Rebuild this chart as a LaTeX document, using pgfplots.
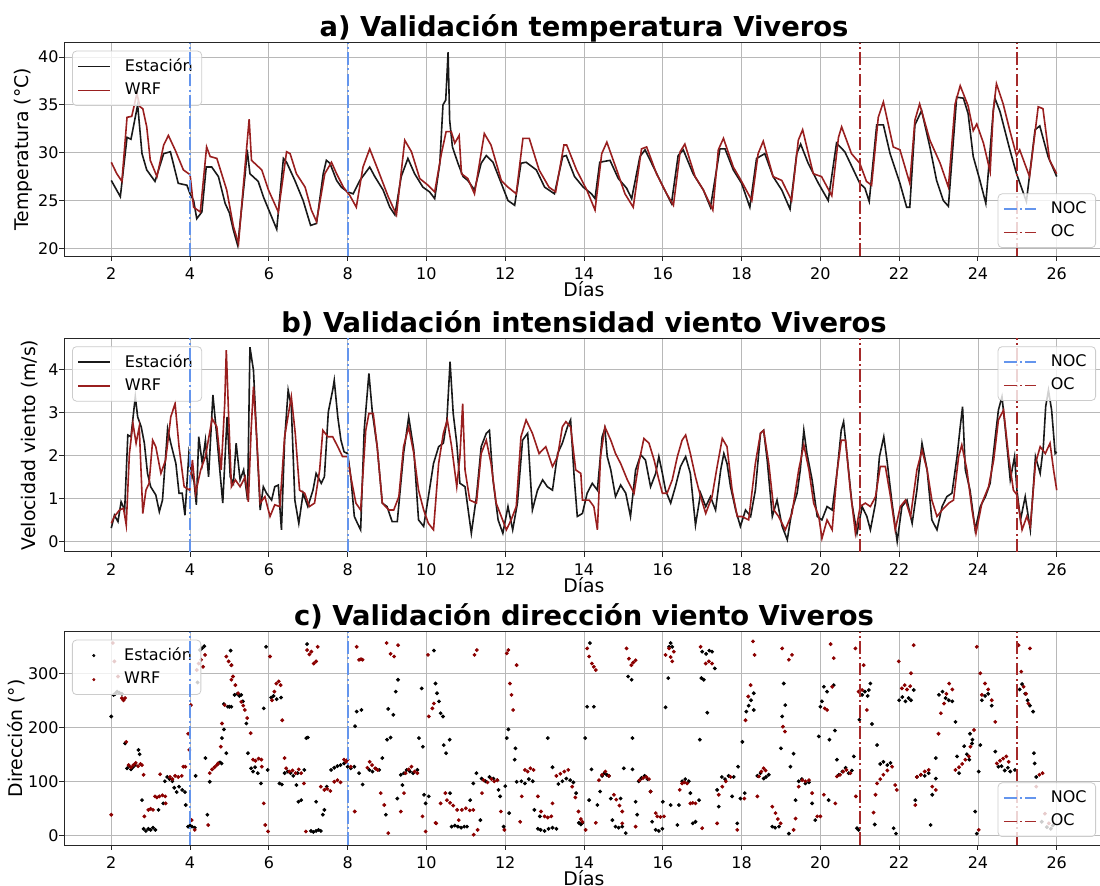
\documentclass[border=0pt]{standalone}
\usepackage{fontspec}
\setmainfont{DejaVu Sans}
\usepackage{pgfplots}
\pgfplotsset{compat=1.18}
\definecolor{wrf}{HTML}{8B0000}
\definecolor{noc}{HTML}{6495ED}
\definecolor{oc}{HTML}{A52A2A}

\pgfplotsset{
  base/.style={scale only axis, width=520pt, height=106.65pt, xmin=0.8, xmax=27.2, anchor=north west},
  legbox/.style={draw=black!20, fill=white, fill opacity=0.8, text opacity=1, rounded corners=2pt,
    font=\fontsize{8}{9.6}\selectfont, row sep=0.4pt, inner xsep=2.5pt, inner ysep=1.8pt},
  linelegend/.style={legend cell align=left,
    legend image code/.code={\draw[##1] (0pt,0pt) -- (16pt,0pt); \path (21pt,0pt);}},
  panel/.style={base, linelegend,
    grid=major, grid style={black!28, line width=0.4pt},
    tick align=outside, tick pos=left, major tick length=2.5pt,
    tick style={black!85, line width=0.45pt},
    axis line style={black!85, line width=0.45pt},
    xtick={2,4,...,26},
    tick label style={font=\fontsize{8}{9.6}\selectfont},
    yticklabel style={inner xsep=0pt},
    /pgf/number format/assume math mode=true,
    label style={font=\fontsize{9.4}{11}\selectfont},
    title style={font=\bfseries\fontsize{13.7}{16}\selectfont, at={(0.5,1)}, anchor=base, yshift=-3.1pt},
    xlabel={Días},
    xlabel style={at={(axis description cs:0.5,0)}, anchor=base, yshift=-20.5pt}},
  over/.style={base, hide axis, linelegend},
  est/.style={black!90, line width=0.8pt},
  mod/.style={wrf!88!white, line width=0.8pt},
  nocl/.style={noc, line width=0.9pt, dash pattern=on 6.4pt off 1.6pt on 1pt off 1.6pt},
  ocl/.style={oc, line width=0.9pt, dash pattern=on 6.4pt off 1.6pt on 1pt off 1.6pt},
  dotk/.style={only marks, mark=*, mark size=0.75pt, mark options={draw=black, fill=black},
    legend image code/.code={\fill[black] (8pt,0pt) circle (0.55pt); \path (0pt,0pt) (21pt,0pt);}},
  dotr/.style={only marks, mark=*, mark size=0.75pt, mark options={draw=wrf, fill=wrf},
    legend image code/.code={\fill[wrf] (8pt,0pt) circle (0.55pt); \path (0pt,0pt) (21pt,0pt);}},
}

\begin{document}
\begin{tikzpicture}
\useasboundingbox (0,0) rectangle (550pt,-443pt);
\clip (0,0) rectangle (550pt,-443pt);

% a) temperatura
\begin{axis}[panel, at={(32pt,-21.35pt)}, ymin=19.2, ymax=41.5, ytick={20,25,30,35,40},
  title={a) Validación temperatura Viveros}, ylabel={Temperatura (°C)},
  ylabel style={at={(axis description cs:-0.0394,0.5)}, anchor=center},
  legend style={legbox, at={(0,1)}, anchor=north west, xshift=4pt, yshift=-4pt}]
\addplot[est] coordinates {(2.0,27.1)(2.23,25.4)(2.4,31.6)(2.5,31.4)(2.67,35.0)(2.78,29.9)(2.9,28.2)(3.11,27.0)(3.33,29.9)(3.5,30.1)(3.7,26.8)(3.92,26.6)(4.0,25.7)(4.09,25.0)(4.17,23.1)(4.3,23.8)(4.41,28.5)(4.55,28.5)(4.72,27.5)(4.89,24.7)(5.0,23.7)(5.1,21.9)(5.21,20.3)(5.4,27.8)(5.45,30.3)(5.52,27.8)(5.73,27.0)(5.86,25.4)(6.07,23.3)(6.2,22.0)(6.37,29.4)(6.45,29.0)(6.66,27.1)(6.87,25.0)(7.06,22.4)(7.21,22.6)(7.38,27.8)(7.46,29.2)(7.55,28.9)(7.72,27.1)(7.84,26.4)(8.0,25.9)(8.14,25.7)(8.31,27.1)(8.56,28.5)(8.69,27.5)(8.9,26.1)(9.07,24.3)(9.2,23.5)(9.36,27.5)(9.53,29.4)(9.7,27.8)(9.91,26.4)(10.08,25.9)(10.21,25.2)(10.34,28.9)(10.42,35.0)(10.49,35.5)(10.55,40.5)(10.59,33.4)(10.66,30.6)(10.8,28.9)(10.93,27.5)(11.05,27.1)(11.22,26.1)(11.39,28.9)(11.52,29.7)(11.69,29.0)(11.9,26.8)(12.07,25.0)(12.24,24.5)(12.4,28.9)(12.53,29.0)(12.79,28.2)(13.0,26.4)(13.25,25.7)(13.46,29.6)(13.55,29.7)(13.76,27.5)(13.98,26.4)(14.19,25.7)(14.28,25.2)(14.4,29.0)(14.66,29.2)(14.87,27.3)(15.08,26.3)(15.21,25.2)(15.42,29.6)(15.55,30.3)(15.8,28.2)(16.01,26.4)(16.22,24.7)(16.39,29.7)(16.52,30.3)(16.77,27.8)(17.03,26.1)(17.21,24.3)(17.45,30.4)(17.58,30.4)(17.79,28.2)(18.0,26.8)(18.21,24.3)(18.38,29.4)(18.59,29.9)(18.8,27.5)(19.02,26.1)(19.23,24.1)(19.4,29.9)(19.5,30.9)(19.69,28.9)(19.95,26.8)(20.2,25.0)(20.41,31.0)(20.62,30.1)(20.84,28.2)(21.0,26.8)(21.13,26.3)(21.24,24.9)(21.43,32.9)(21.6,32.9)(21.77,29.9)(22.02,26.8)(22.19,24.3)(22.27,24.3)(22.4,32.9)(22.57,34.4)(22.78,30.6)(22.95,27.1)(23.12,25.0)(23.25,24.4)(23.46,35.8)(23.63,35.7)(23.75,34.1)(23.88,29.6)(24.05,27.1)(24.2,24.7)(24.39,34.4)(24.43,35.7)(24.56,34.3)(24.81,30.3)(24.98,27.8)(25.23,24.9)(25.45,32.4)(25.57,32.8)(25.78,29.6)(26.0,27.5)};
\addplot[mod] coordinates {(2.0,29.0)(2.14,27.8)(2.27,27.0)(2.4,33.7)(2.52,33.8)(2.58,34.9)(2.65,36.2)(2.73,34.8)(2.8,34.6)(2.9,32.7)(2.99,29.2)(3.16,27.5)(3.33,30.8)(3.45,31.8)(3.62,30.3)(3.83,28.2)(4.0,27.7)(4.09,24.3)(4.26,23.8)(4.42,30.6)(4.51,29.6)(4.68,29.4)(4.93,26.1)(5.1,22.3)(5.23,20.5)(5.35,26.4)(5.5,33.5)(5.56,29.2)(5.69,28.7)(5.82,28.2)(5.99,26.1)(6.24,23.8)(6.45,30.1)(6.54,29.9)(6.7,27.8)(6.92,26.4)(7.08,24.0)(7.21,22.8)(7.42,27.8)(7.59,29.0)(7.72,27.8)(7.89,26.4)(8.06,25.5)(8.22,24.3)(8.39,28.5)(8.56,30.4)(8.77,28.2)(9.03,25.4)(9.24,23.5)(9.45,31.3)(9.62,30.1)(9.83,27.3)(10.04,26.6)(10.21,25.9)(10.38,29.9)(10.5,32.2)(10.63,32.2)(10.72,31.0)(10.83,31.8)(10.89,27.8)(11.05,27.3)(11.22,25.7)(11.47,32.0)(11.64,30.8)(11.9,27.1)(12.07,26.4)(12.28,25.7)(12.45,31.5)(12.61,31.5)(12.86,28.2)(13.11,26.4)(13.28,25.9)(13.49,30.8)(13.56,30.8)(13.81,28.2)(14.07,26.1)(14.28,24.0)(14.45,29.9)(14.58,31.1)(14.83,28.2)(15.04,25.7)(15.25,24.3)(15.46,30.4)(15.59,30.6)(15.84,27.8)(16.1,25.7)(16.27,24.5)(16.44,30.1)(16.56,30.9)(16.82,27.5)(17.03,26.1)(17.27,24.0)(17.41,30.3)(17.54,31.5)(17.79,28.5)(18.0,27.0)(18.26,25.0)(18.42,29.9)(18.55,31.2)(18.8,27.5)(19.02,27.1)(19.27,25.0)(19.44,31.3)(19.55,32.4)(19.82,27.8)(20.03,27.5)(20.29,25.5)(20.46,31.6)(20.54,32.7)(20.79,29.9)(21.0,28.9)(21.17,27.0)(21.3,26.6)(21.47,33.7)(21.6,35.3)(21.85,30.6)(22.02,30.3)(22.27,26.8)(22.4,33.4)(22.52,35.1)(22.78,31.3)(23.04,28.9)(23.25,26.4)(23.42,35.1)(23.55,37.0)(23.75,34.9)(23.88,32.3)(23.97,33.0)(24.14,31.0)(24.31,28.0)(24.39,34.4)(24.47,37.2)(24.64,35.1)(24.81,32.3)(24.98,29.7)(25.06,30.3)(25.31,27.5)(25.53,34.8)(25.65,34.6)(25.82,29.2)(26.0,27.8)};
\legend{Estación,WRF}
\end{axis}
\begin{axis}[over, at={(32pt,-21.35pt)}, ymin=19.2, ymax=41.5,
  legend style={legbox, at={(1,0)}, anchor=south east, xshift=-4pt, yshift=4pt}]
\addplot[nocl] coordinates {(4,19.2)(4,41.5)};
\addplot[nocl, forget plot] coordinates {(8,19.2)(8,41.5)};
\addplot[ocl] coordinates {(21,19.2)(21,41.5)};
\addplot[ocl, forget plot] coordinates {(25,19.2)(25,41.5)};
\legend{NOC,OC}
\end{axis}

% b) viento
\begin{axis}[panel, at={(32pt,-169.15pt)}, ymin=-0.225, ymax=4.725, ytick={0,1,2,3,4},
  title={b) Validación intensidad viento Viveros}, ylabel={Velocidad viento (m/s)},
  ylabel style={at={(axis description cs:-0.0327,0.5)}, anchor=center},
  legend style={legbox, at={(0,1)}, anchor=north west, xshift=4pt, yshift=-4pt}]
\addplot[est] coordinates {(2.0,0.32)(2.08,0.62)(2.17,0.47)(2.25,0.93)(2.34,0.74)(2.42,2.48)(2.5,2.44)(2.61,3.37)(2.67,2.9)(2.76,2.67)(2.84,2.29)(2.92,1.59)(3.0,1.28)(3.13,1.09)(3.22,0.70)(3.3,0.97)(3.43,2.63)(3.51,2.29)(3.64,1.82)(3.72,1.13)(3.8,1.13)(3.87,0.62)(3.97,2.05)(4.04,1.59)(4.1,1.4)(4.16,0.86)(4.22,2.44)(4.31,1.82)(4.39,2.36)(4.47,1.51)(4.58,3.41)(4.68,2.44)(4.83,0.9)(4.94,2.9)(5.02,1.51)(5.1,1.36)(5.17,2.29)(5.27,1.44)(5.36,1.67)(5.46,0.97)(5.52,4.52)(5.61,3.98)(5.69,2.44)(5.78,0.74)(5.86,1.28)(5.94,1.13)(6.07,0.97)(6.15,1.28)(6.24,1.32)(6.32,0.28)(6.4,2.36)(6.49,3.52)(6.57,3.14)(6.66,0.97)(6.76,0.43)(6.87,1.13)(6.99,0.82)(7.12,1.2)(7.2,1.59)(7.33,1.36)(7.41,1.51)(7.51,3.02)(7.62,3.52)(7.66,3.75)(7.75,2.9)(7.83,2.36)(7.91,2.09)(8.0,2.05)(8.08,1.51)(8.17,0.59)(8.25,0.43)(8.33,0.28)(8.42,2.59)(8.54,3.91)(8.63,2.98)(8.75,2.21)(8.88,0.9)(9.0,0.82)(9.13,0.47)(9.26,0.47)(9.42,2.05)(9.55,2.9)(9.68,2.13)(9.8,0.51)(9.93,0.36)(10.05,1.05)(10.18,1.82)(10.31,2.21)(10.43,2.29)(10.52,2.83)(10.6,4.18)(10.68,2.98)(10.77,2.29)(10.85,1.36)(10.98,1.28)(11.14,0.2)(11.27,1.05)(11.39,2.21)(11.52,2.52)(11.6,2.59)(11.69,1.44)(11.82,0.51)(11.94,0.2)(12.07,0.82)(12.19,0.28)(12.31,0.9)(12.44,2.36)(12.57,2.52)(12.69,0.74)(12.82,1.2)(12.95,1.44)(13.07,1.28)(13.2,1.2)(13.33,2.05)(13.45,2.29)(13.58,2.67)(13.66,2.83)(13.75,1.51)(13.83,0.59)(13.96,0.66)(14.08,1.13)(14.21,1.36)(14.34,1.2)(14.46,2.44)(14.53,2.63)(14.59,1.98)(14.68,1.67)(14.8,1.05)(14.93,1.32)(15.06,1.13)(15.18,0.59)(15.31,1.67)(15.44,2.02)(15.56,1.9)(15.69,1.28)(15.82,1.59)(15.9,1.98)(15.99,1.59)(16.07,1.2)(16.2,0.9)(16.32,1.28)(16.45,1.75)(16.58,1.98)(16.7,1.59)(16.83,0.39)(16.96,1.13)(17.09,0.82)(17.21,1.05)(17.34,0.74)(17.47,1.67)(17.55,2.05)(17.63,1.82)(17.72,1.28)(17.85,0.74)(17.97,0.36)(18.1,0.74)(18.23,0.59)(18.35,1.2)(18.48,2.52)(18.56,2.59)(18.65,1.9)(18.78,0.59)(18.9,0.97)(19.03,0.36)(19.16,0.05)(19.28,0.74)(19.41,1.13)(19.49,1.67)(19.58,2.59)(19.66,2.05)(19.79,1.44)(19.92,0.59)(20.04,0.51)(20.17,0.82)(20.3,0.74)(20.42,1.59)(20.53,2.59)(20.59,2.79)(20.68,1.98)(20.8,0.9)(20.93,0.2)(21.06,0.82)(21.18,0.59)(21.27,0.28)(21.4,0.9)(21.5,1.98)(21.61,2.44)(21.69,1.9)(21.82,0.9)(21.95,0.01)(22.07,0.82)(22.2,0.97)(22.33,0.43)(22.45,1.2)(22.58,2.29)(22.71,1.67)(22.83,0.51)(22.96,0.28)(23.09,0.82)(23.21,1.05)(23.34,1.13)(23.47,1.98)(23.55,2.67)(23.61,3.14)(23.68,1.67)(23.8,1.2)(23.93,0.28)(24.06,0.82)(24.19,1.05)(24.31,1.36)(24.44,2.44)(24.52,3.06)(24.61,3.37)(24.69,2.67)(24.82,1.44)(24.93,1.98)(24.99,1.2)(25.08,0.51)(25.2,1.05)(25.33,0.28)(25.46,1.98)(25.58,1.59)(25.66,2.21)(25.72,3.14)(25.79,3.52)(25.87,3.06)(25.96,2.05)(26.0,2.09)};
\addplot[mod] coordinates {(2.0,0.43)(2.08,0.59)(2.21,0.74)(2.31,0.78)(2.38,0.39)(2.46,2.05)(2.55,2.75)(2.63,2.29)(2.71,2.67)(2.8,0.66)(2.88,1.2)(2.96,1.36)(3.05,2.36)(3.13,2.21)(3.26,1.59)(3.38,1.9)(3.51,2.9)(3.62,3.21)(3.72,2.21)(3.85,1.28)(3.99,1.2)(4.06,1.9)(4.14,1.13)(4.27,1.67)(4.39,1.98)(4.56,2.86)(4.68,2.67)(4.79,1.67)(4.88,3.21)(4.92,4.45)(4.98,2.9)(5.05,1.28)(5.15,1.44)(5.27,1.28)(5.4,1.51)(5.48,0.93)(5.55,2.59)(5.61,3.6)(5.69,2.44)(5.78,0.9)(5.9,1.05)(6.03,0.59)(6.15,0.86)(6.28,0.82)(6.4,2.44)(6.57,3.37)(6.67,2.52)(6.78,1.2)(6.91,1.13)(7.03,0.82)(7.16,0.9)(7.29,1.67)(7.37,2.59)(7.5,2.44)(7.62,2.44)(7.75,2.21)(7.87,1.98)(8.0,1.98)(8.08,1.51)(8.21,0.9)(8.33,0.74)(8.46,2.59)(8.54,2.98)(8.65,2.98)(8.75,2.21)(8.88,0.9)(9.05,0.74)(9.17,0.74)(9.3,1.05)(9.42,2.21)(9.55,2.67)(9.68,2.05)(9.8,1.2)(9.93,0.74)(10.05,0.43)(10.18,0.28)(10.31,1.82)(10.43,2.52)(10.53,2.83)(10.64,2.21)(10.77,1.28)(10.85,1.98)(10.92,3.21)(10.98,1.67)(11.1,0.97)(11.27,0.9)(11.39,2.05)(11.52,2.36)(11.64,1.82)(11.77,0.9)(11.9,0.59)(12.03,0.28)(12.15,0.51)(12.28,0.82)(12.4,2.44)(12.53,2.83)(12.69,2.52)(12.86,2.05)(13.03,2.21)(13.2,1.75)(13.33,1.98)(13.45,2.67)(13.54,2.79)(13.66,2.67)(13.79,1.67)(13.92,1.59)(13.96,0.97)(14.13,0.97)(14.25,0.82)(14.34,0.28)(14.42,1.98)(14.53,2.67)(14.68,2.36)(14.8,2.05)(14.93,1.82)(15.1,1.44)(15.27,1.13)(15.39,1.82)(15.52,2.4)(15.65,2.29)(15.78,1.9)(15.9,1.44)(15.99,1.13)(16.11,1.13)(16.24,1.44)(16.37,1.98)(16.49,2.36)(16.58,2.48)(16.7,2.05)(16.83,1.51)(16.96,1.05)(17.09,0.66)(17.25,1.05)(17.38,1.75)(17.51,2.4)(17.63,2.21)(17.76,1.2)(17.89,0.59)(18.01,0.59)(18.18,0.51)(18.35,1.82)(18.48,2.52)(18.56,2.59)(18.69,1.82)(18.82,0.74)(18.94,0.59)(19.11,0.28)(19.28,0.66)(19.45,1.67)(19.58,2.25)(19.71,1.67)(19.83,0.9)(19.96,0.59)(20.04,0.08)(20.17,0.51)(20.3,0.28)(20.42,1.59)(20.53,2.36)(20.64,2.36)(20.76,1.2)(20.89,0.2)(21.01,0.82)(21.14,0.9)(21.27,0.82)(21.4,1.05)(21.52,1.75)(21.65,1.75)(21.78,1.05)(21.9,0.28)(22.03,0.82)(22.16,0.97)(22.29,0.59)(22.45,1.67)(22.58,2.13)(22.71,1.67)(22.83,0.97)(22.96,0.59)(23.09,0.74)(23.26,0.9)(23.38,0.97)(23.51,1.98)(23.59,2.25)(23.72,1.67)(23.85,0.74)(23.95,0.2)(24.1,0.9)(24.27,1.28)(24.4,1.9)(24.52,2.83)(24.65,3.06)(24.78,1.98)(24.9,1.2)(24.99,1.09)(25.12,0.28)(25.24,0.59)(25.33,0.36)(25.46,1.82)(25.58,2.21)(25.71,2.05)(25.83,2.29)(25.92,1.67)(26.0,1.2)};
\legend{Estación,WRF}
\end{axis}
\begin{axis}[over, at={(32pt,-169.15pt)}, ymin=-0.225, ymax=4.725,
  legend style={legbox, at={(1,1)}, anchor=north east, xshift=-4pt, yshift=-4pt}]
\addplot[nocl] coordinates {(4,-0.225)(4,4.725)};
\addplot[nocl, forget plot] coordinates {(8,-0.225)(8,4.725)};
\addplot[ocl] coordinates {(21,-0.225)(21,4.725)};
\addplot[ocl, forget plot] coordinates {(25,-0.225)(25,4.725)};
\legend{NOC,OC}
\end{axis}

% c) direccion
\begin{axis}[panel, at={(32pt,-315.85pt)}, ymin=-18, ymax=377, ytick={0,100,200,300},
  title={c) Validación dirección viento Viveros}, ylabel={Dirección (°)},
  ylabel style={at={(axis description cs:-0.0462,0.5)}, anchor=center},
  legend style={legbox, at={(0,1)}, anchor=north west, xshift=4pt, yshift=-4pt}]
\addplot[dotk] coordinates {(2.0,220)(2.06,260)(2.1,262)(2.15,266)(2.2,264)(2.27,262)(2.35,170)(2.4,124)(2.45,128)(2.5,122)(2.55,126)(2.6,130)(2.69,158)(2.72,150)(2.78,65)(2.82,12)(2.88,8)(2.94,12)(3.0,10)(3.06,14)(3.12,10)(3.2,47)(3.32,59)(3.36,100)(3.42,108)(3.48,104)(3.55,100)(3.6,88)(3.66,80)(3.72,90)(3.8,84)(3.87,80)(3.89,56)(3.95,16)(4.0,18)(4.05,16)(4.12,14)(4.14,110)(4.19,283)(4.25,343)(4.3,346)(4.36,350)(4.39,143)(4.44,38)(4.5,99)(4.72,133)(4.76,135)(4.8,133)(4.81,180)(4.86,196)(4.92,152)(4.86,243)(4.96,238)(5.0,238)(5.05,238)(5.05,315)(5.03,342)(5.13,260)(5.2,262)(5.25,258)(5.3,260)(5.34,248)(5.43,207)(5.47,152)(5.55,124)(5.6,118)(5.65,126)(5.72,115)(5.8,96)(5.93,349)(5.97,121)(5.87,235)(6.06,255)(6.12,258)(6.2,252)(6.27,96)(6.31,255)(6.33,94)(6.4,115)(6.48,118)(6.55,115)(6.62,110)(6.7,93)(6.73,115)(6.75,62)(6.82,65)(6.9,121)(6.95,180)(6.99,181)(6.97,354)(7.07,8)(7.13,6)(7.2,8)(7.26,10)(7.32,8)(7.2,62)(7.37,38)(7.41,47)(7.47,90)(7.58,121)(7.66,125)(7.74,128)(7.82,130)(7.91,133)(8.0,127)(8.08,124)(8.17,127)(8.19,202)(8.23,229)(8.35,232)(8.29,115)(8.38,94)(8.55,121)(8.63,118)(8.72,123)(8.8,121)(8.88,143)(8.97,38)(9.0,177)(9.09,181)(9.03,234)(9.16,223)(9.22,266)(9.28,288)(9.26,68)(9.35,112)(9.39,93)(9.43,115)(9.5,121)(9.58,118)(9.66,115)(9.77,121)(9.81,180)(9.88,272)(9.91,164)(9.94,75)(9.98,59)(10.06,72)(10.19,342)(10.23,281)(10.27,263)(10.32,248)(10.36,226)(10.42,220)(10.44,167)(10.5,152)(10.59,177)(10.6,78)(10.64,16)(10.72,18)(10.8,16)(10.88,14)(10.96,16)(11.03,16)(11.11,65)(11.19,96)(11.27,115)(11.37,28)(11.4,105)(11.5,100)(11.6,108)(11.7,105)(11.8,102)(11.83,84)(11.87,72)(11.96,16)(12.0,91)(12.04,180)(12.08,196)(12.1,41)(12.24,140)(12.26,161)(12.29,99)(12.41,100)(12.5,96)(12.6,104)(12.7,100)(12.74,47)(12.83,12)(12.9,10)(13.0,8)(13.1,12)(13.2,14)(13.3,12)(12.88,35)(13.08,180)(13.2,126)(13.35,95)(13.45,100)(13.55,105)(13.65,102)(13.73,98)(13.8,78)(13.87,23)(13.92,20)(13.96,23)(14.03,180)(14.08,238)(14.13,65)(14.19,122)(14.25,238)(14.15,356)(14.34,56)(14.41,81)(14.46,110)(14.52,115)(14.58,112)(14.63,110)(14.68,68)(14.72,28)(14.8,16)(14.88,14)(14.97,16)(14.93,68)(15.01,124)(15.06,4)(15.12,294)(15.21,288)(15.23,180)(15.23,122)(15.31,62)(15.35,38)(15.39,100)(15.46,106)(15.54,110)(15.61,104)(15.69,81)(15.73,25)(15.82,10)(15.9,8)(15.99,12)(16.0,62)(16.07,237)(16.14,291)(16.16,349)(16.2,356)(16.24,349)(16.2,56)(16.37,19)(16.41,56)(16.49,100)(16.57,104)(16.66,100)(16.7,78)(16.76,22)(16.83,25)(16.92,65)(16.94,177)(16.98,291)(17.04,288)(17.0,340)(17.1,336)(17.18,342)(17.25,340)(17.13,227)(17.32,309)(17.38,84)(17.42,53)(17.5,108)(17.58,104)(17.67,110)(17.76,72)(17.8,108)(17.89,22)(17.91,127)(17.97,68)(18.02,173)(18.08,78)(18.12,229)(18.18,240)(18.24,250)(18.31,232)(18.31,263)(18.4,110)(18.48,115)(18.56,105)(18.62,108)(18.69,112)(18.78,16)(18.85,14)(18.95,16)(19.03,220)(19.07,281)(19.11,241)(19.0,161)(19.2,3)(19.24,127)(19.32,151)(19.37,65)(19.45,100)(19.53,104)(19.62,96)(19.71,98)(19.79,59)(19.87,28)(19.96,183)(20.0,238)(20.04,248)(20.09,275)(20.17,266)(20.21,65)(20.23,177)(20.34,278)(20.37,194)(20.42,140)(20.47,112)(20.56,118)(20.64,125)(20.72,115)(20.8,120)(20.85,146)(20.93,13)(20.97,10)(20.99,214)(21.06,260)(21.13,266)(21.2,258)(21.23,269)(21.27,281)(21.31,206)(21.38,20)(21.44,167)(21.52,132)(21.6,136)(21.7,130)(21.78,134)(21.86,13)(21.92,3)(22.0,250)(22.08,256)(22.16,248)(22.24,254)(22.3,250)(22.37,269)(22.41,65)(22.45,108)(22.55,112)(22.65,110)(22.75,115)(22.8,19)(22.84,75)(22.93,143)(22.93,105)(23.01,260)(23.1,266)(23.18,254)(23.26,250)(23.35,248)(23.43,210)(23.47,146)(23.52,115)(23.65,165)(23.72,150)(23.78,140)(23.85,170)(23.8,188)(23.86,177)(23.93,44)(23.97,3)(24.02,118)(24.06,167)(24.1,250)(24.18,258)(24.26,262)(24.35,240)(24.44,155)(24.52,127)(24.6,128)(24.68,120)(24.76,125)(24.82,118)(24.94,121)(25.06,270)(25.12,280)(25.2,262)(25.26,250)(25.32,240)(25.4,229)(25.42,152)(25.44,133)(25.48,108)(25.62,25)(25.75,15)(25.85,12)(25.9,18)};
\addplot[dotr] coordinates {(2.0,38)(2.04,356)(2.08,322)(2.17,294)(2.27,254)(2.31,250)(2.35,254)(2.38,173)(2.44,130)(2.5,126)(2.56,130)(2.62,134)(2.68,128)(2.74,132)(2.78,130)(2.82,112)(2.84,35)(2.94,47)(3.0,49)(3.06,47)(3.11,72)(3.16,70)(3.22,72)(3.3,74)(3.37,72)(3.24,113)(3.38,59)(3.49,108)(3.55,104)(3.62,110)(3.7,108)(3.79,110)(3.83,127)(3.88,127)(3.95,188)(3.98,158)(4.02,241)(4.04,28)(4.12,10)(4.17,306)(4.22,318)(4.28,325)(4.33,312)(4.38,334)(4.46,19)(4.5,115)(4.56,122)(4.62,126)(4.68,130)(4.71,133)(4.78,164)(4.81,207)(4.88,241)(4.92,331)(4.98,322)(5.05,315)(5.05,288)(5.09,294)(5.15,278)(5.22,263)(5.3,247)(5.35,240)(5.39,232)(5.45,217)(5.54,189)(5.6,140)(5.66,138)(5.74,142)(5.81,140)(5.82,127)(5.87,59)(5.91,19)(5.98,7)(6.03,331)(6.08,250)(6.14,266)(6.19,281)(6.25,285)(6.3,278)(6.34,213)(6.4,143)(6.44,124)(6.52,118)(6.6,120)(6.68,115)(6.76,122)(6.82,115)(6.89,96)(6.94,7)(6.97,343)(7.03,335)(7.08,340)(7.14,318)(7.2,322)(7.24,349)(7.32,90)(7.41,84)(7.48,86)(7.56,82)(7.66,99)(7.74,102)(7.82,98)(7.91,140)(7.96,136)(8.0,140)(8.08,127)(8.18,44)(8.23,349)(8.29,325)(8.34,326)(8.38,325)(8.5,125)(8.56,136)(8.62,130)(8.7,124)(8.76,121)(8.84,78)(8.93,56)(8.99,356)(9.03,4)(9.09,336)(9.18,331)(9.28,352)(9.35,44)(9.43,78)(9.47,115)(9.55,122)(9.62,127)(9.7,118)(9.77,115)(9.9,35)(9.98,7)(10.04,334)(10.06,220)(10.15,235)(10.19,244)(10.23,23)(10.25,22)(10.36,59)(10.48,78)(10.52,65)(10.6,60)(10.68,55)(10.78,47)(10.82,28)(10.9,47)(11.0,50)(11.1,46)(11.19,47)(11.22,334)(11.28,343)(11.2,1)(11.3,10)(11.41,78)(11.45,102)(11.55,98)(11.65,104)(11.72,100)(11.8,102)(11.89,44)(11.98,10)(12.04,337)(12.08,343)(12.12,281)(12.16,260)(12.2,232)(12.29,315)(12.38,25)(12.42,72)(12.5,121)(12.57,118)(12.64,124)(12.72,121)(12.83,72)(12.91,44)(13.0,35)(13.08,33)(13.17,35)(13.2,59)(13.3,110)(13.4,114)(13.5,118)(13.6,121)(13.7,90)(13.78,70)(13.86,44)(13.92,30)(13.96,25)(14.04,10)(14.08,346)(14.13,331)(14.2,318)(14.25,312)(14.3,306)(14.3,23)(14.38,102)(14.46,112)(14.54,118)(14.63,110)(14.76,75)(14.82,66)(14.9,55)(14.97,44)(14.97,22)(15.08,346)(15.14,327)(15.2,315)(15.25,320)(15.31,324)(15.31,16)(15.41,102)(15.5,106)(15.58,108)(15.65,104)(15.69,81)(15.82,41)(15.86,35)(15.94,34)(16.03,35)(16.07,334)(16.16,346)(16.2,330)(16.24,322)(16.28,340)(16.43,84)(16.49,96)(16.55,98)(16.62,96)(16.7,59)(16.76,60)(16.83,59)(17.0,13)(16.96,349)(17.09,318)(17.17,322)(17.25,318)(17.38,22)(17.42,75)(17.51,90)(17.6,100)(17.72,108)(17.89,10)(18.07,68)(18.1,213)(18.17,257)(18.23,278)(18.29,359)(18.33,334)(18.4,72)(18.44,109)(18.5,118)(18.56,124)(18.61,120)(18.78,53)(18.86,41)(18.92,30)(18.99,22)(19.03,346)(19.05,201)(19.1,192)(19.2,325)(19.28,334)(19.32,10)(19.37,31)(19.45,90)(19.54,102)(19.62,100)(19.71,102)(19.79,78)(19.92,35)(20.0,35)(20.09,75)(20.11,235)(20.17,232)(20.26,354)(20.3,275)(20.34,328)(20.38,59)(20.42,109)(20.5,112)(20.58,118)(20.66,121)(20.76,115)(20.89,346)(20.9,72)(20.97,266)(21.06,269)(21.1,315)(21.18,232)(21.35,42)(21.4,75)(21.44,96)(21.52,104)(21.6,112)(21.7,120)(21.82,127)(21.9,93)(21.94,84)(21.99,322)(22.07,272)(22.14,278)(22.2,270)(22.28,276)(22.3,300)(22.37,352)(22.41,56)(22.45,108)(22.55,112)(22.65,118)(22.75,121)(22.84,90)(22.93,84)(23.0,188)(23.06,226)(23.14,244)(23.2,262)(23.27,281)(23.35,270)(23.43,121)(23.52,126)(23.6,132)(23.68,140)(23.77,146)(23.81,164)(23.9,195)(23.97,349)(24.02,10)(24.06,300)(24.1,260)(24.18,281)(24.26,270)(24.35,250)(24.44,210)(24.48,133)(24.56,138)(24.64,142)(24.72,146)(24.78,136)(25.03,352)(25.1,303)(25.16,275)(25.22,262)(25.28,244)(25.32,346)(25.48,90)(25.56,112)(25.64,115)(25.7,40)(25.8,22)};
\legend{Estación,WRF}
\end{axis}
\begin{axis}[over, at={(32pt,-315.85pt)}, ymin=-18, ymax=377,
  legend style={legbox, at={(1,0)}, anchor=south east, xshift=-4pt, yshift=4pt}]
\addplot[nocl] coordinates {(4,-18)(4,377)};
\addplot[nocl, forget plot] coordinates {(8,-18)(8,377)};
\addplot[ocl] coordinates {(21,-18)(21,377)};
\addplot[ocl, forget plot] coordinates {(25,-18)(25,377)};
\legend{NOC,OC}
\end{axis}
\end{tikzpicture}
\end{document}
